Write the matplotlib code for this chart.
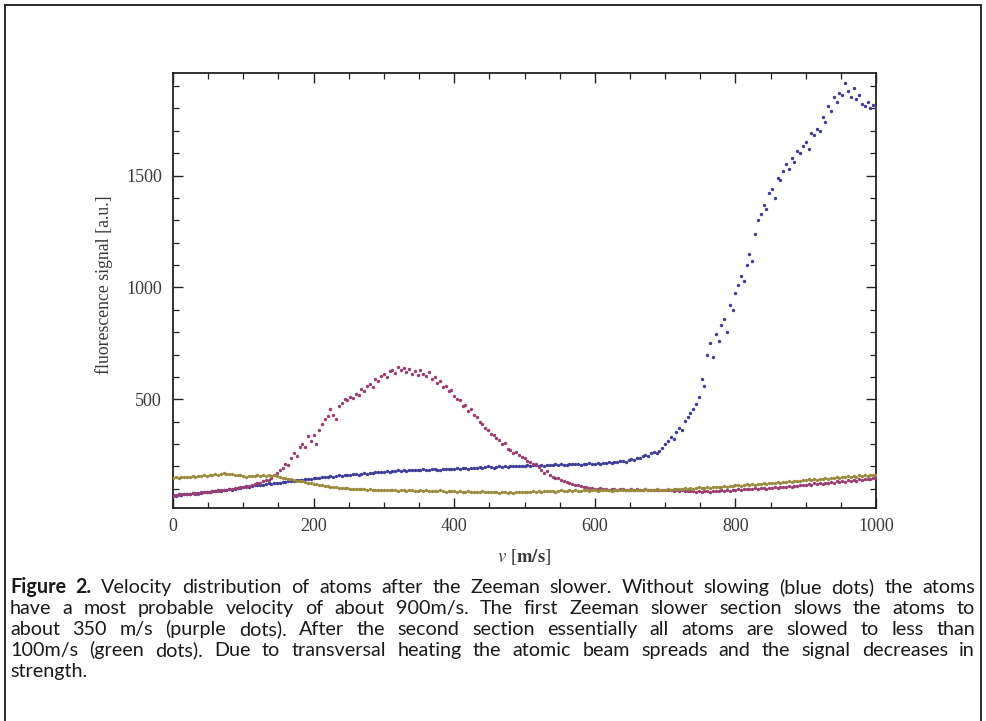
import numpy as np
import matplotlib
matplotlib.use('Agg')
import matplotlib.pyplot as plt
from matplotlib.ticker import MultipleLocator, FixedLocator
from matplotlib.lines import Line2D

# ---------------- data ----------------
velocity = np.arange(0, 1001, 4)  # m/s sampling grid

blue_signal = [
    72, 70, 75, 73, 78, 76, 79, 80, 77, 83, 82, 85, 88, 86, 90, 89, 93, 91, 96, 95, 99, 97, 101, 104, 103,
    108, 111, 109, 114, 118, 116, 119, 117, 121, 124, 122, 126, 128, 127, 131, 129, 133, 135, 134, 138, 140, 139, 143, 144, 146,
    148, 150, 147, 152, 154, 151, 156, 155, 158, 160, 157, 162, 163, 161, 165, 166, 164, 168, 170, 167, 172, 171, 174, 173, 176,
    177, 179, 175, 180, 178, 182, 180, 183, 181, 185, 182, 184, 186, 183, 188, 185, 184, 187, 189, 186, 185, 190, 187, 189, 188,
    189, 192, 188, 191, 194, 190, 193, 195, 192, 196, 194, 198, 201, 197, 195, 199, 200, 198, 202, 199, 201, 204, 200, 203, 202,
    203, 206, 202, 205, 207, 204, 206, 203, 208, 205, 207, 209, 206, 210, 208, 207, 211, 209, 212, 210, 208, 213, 211, 214, 212,
    212, 215, 213, 217, 214, 219, 216, 221, 218, 223, 226, 222, 229, 234, 231, 240, 238, 247, 252, 246, 258, 263, 259, 271, 282,
    300, 312, 330, 322, 352, 370, 362, 405, 422, 440, 455, 480, 510, 590, 560, 700, 750, 690, 790, 760, 830, 860, 800, 920, 900,
    975, 1010, 1050, 1030, 1100, 1150, 1120, 1240, 1300, 1330, 1370, 1350, 1420, 1440, 1400, 1490, 1480, 1520, 1550, 1530, 1580, 1560, 1610, 1600, 1630,
    1650, 1620, 1690, 1680, 1710, 1700, 1760, 1740, 1810, 1790, 1850, 1830, 1870, 1860, 1915, 1880, 1850, 1890, 1840, 1860, 1820, 1810, 1830, 1800, 1815,
    1800,
]

purple_signal = [
    70, 74, 72, 76, 75, 78, 77, 80, 82, 79, 84, 86, 85, 88, 90, 89, 92, 94, 93, 97, 99, 98, 102, 104, 106,
    110, 108, 113, 117, 120, 124, 128, 133, 140, 138, 150, 162, 170, 182, 195, 212, 205, 240, 262, 248, 288, 300, 285, 335, 315,
    340, 300, 365, 390, 410, 425, 455, 430, 410, 470, 485, 500, 495, 512, 505, 525, 518, 545, 535, 560, 570, 555, 590, 580, 605,
    612, 600, 625, 632, 618, 645, 630, 640, 622, 635, 615, 628, 610, 632, 615, 605, 620, 590, 600, 575, 580, 555, 560, 535, 540,
    515, 500, 495, 470, 475, 450, 455, 430, 420, 400, 390, 370, 365, 345, 340, 325, 318, 300, 305, 280, 275, 260, 265, 250, 242,
    238, 225, 218, 210, 212, 198, 185, 172, 178, 160, 155, 148, 150, 140, 135, 130, 127, 122, 118, 115, 112, 110, 107, 105, 103,
    101, 99, 102, 98, 100, 97, 99, 101, 96, 98, 100, 97, 95, 99, 96, 98, 94, 97, 99, 95, 96, 93, 97, 95, 94,
    95, 93, 96, 92, 94, 91, 93, 90, 92, 89, 91, 88, 90, 87, 89, 91, 88, 90, 92, 89, 93, 91, 94, 92, 95,
    96, 98, 95, 99, 101, 98, 100, 103, 99, 102, 104, 101, 105, 103, 107, 104, 108, 110, 107, 112, 109, 114, 111, 116, 115,
    118, 121, 117, 124, 120, 126, 123, 128, 125, 130, 127, 133, 131, 135, 132, 138, 136, 140, 137, 142, 140, 145, 143, 146, 148,
    147,
]

green_signal = [
    150, 152, 148, 153, 151, 155, 153, 157, 154, 158, 156, 160, 158, 162, 161, 166, 163, 168, 170, 166, 167, 165, 163, 161, 160,
    158, 155, 157, 159, 156, 160, 158, 162, 159, 161, 157, 160, 156, 153, 150, 148, 145, 142, 140, 137, 135, 133, 130, 128, 126,
    123, 120, 118, 116, 113, 111, 110, 107, 106, 104, 105, 102, 103, 100, 101, 99, 100, 98, 99, 97, 98, 96, 97, 95, 96,
    96, 94, 97, 93, 95, 92, 96, 94, 91, 93, 95, 92, 90, 93, 91, 94, 90, 92, 89, 91, 93, 90, 88, 91, 89,
    89, 87, 90, 88, 86, 89, 87, 85, 88, 86, 89, 87, 84, 86, 88, 85, 83, 86, 84, 82, 85, 83, 86, 84, 85,
    86, 88, 85, 89, 87, 90, 88, 91, 89, 92, 90, 88, 91, 93, 90, 92, 94, 91, 93, 90, 92, 95, 93, 91, 94,
    94, 92, 95, 93, 96, 94, 92, 95, 97, 93, 95, 94, 96, 93, 95, 97, 94, 96, 98, 95, 93, 96, 98, 95, 97,
    97, 99, 96, 100, 98, 101, 99, 102, 100, 103, 101, 104, 106, 103, 105, 107, 104, 108, 106, 110, 107, 111, 109, 113, 112,
    115, 117, 114, 118, 120, 117, 121, 119, 123, 121, 125, 122, 127, 124, 128, 130, 127, 131, 129, 133, 131, 135, 133, 137, 138,
    140, 142, 139, 144, 141, 146, 143, 148, 145, 150, 147, 152, 149, 154, 151, 156, 153, 158, 155, 160, 157, 162, 159, 161, 163,
    162,
]

x_major_ticks = [0, 200, 400, 600, 800, 1000]
y_major_ticks = [500, 1000, 1500]
x_label = r'$v$ [$\mathbf{m/s}$]'
y_label = 'fluorescence signal [a.u.]'

caption_lines = [
    "Figure 2. Velocity distribution of atoms after the Zeeman slower. Without slowing (blue dots) the atoms",
    "have a most probable velocity of about 900m/s. The first Zeeman slower section slows the atoms to",
    "about 350 m/s (purple dots). After the second section essentially all atoms are slowed to less than",
    "100m/s (green dots). Due to transversal heating the atomic beam spreads and the signal decreases in",
    "strength.",
]
caption_bold_words = 2  # "Figure 2." on the first line

# ---------------- figure ----------------
W, H = 986, 721
fig = plt.figure(figsize=(W / 100, H / 100), dpi=100)
fig.patch.set_facecolor('white')
plt.rcParams['mathtext.fontset'] = 'stix'

def fx(x):
    return x / W

def fy(y):
    return 1 - y / H

# outer frame
frame_kw = dict(color='#2a2a2a', lw=1.4, transform=fig.transFigure)
fig.add_artist(Line2D([fx(5), fx(981)], [fy(5), fy(5)], **frame_kw))
fig.add_artist(Line2D([fx(5), fx(5)], [fy(5), fy(721)], **frame_kw))
fig.add_artist(Line2D([fx(981), fx(981)], [fy(5), fy(721)], **frame_kw))

ax_left, ax_right, ax_top, ax_bottom = 173, 876, 73.3, 508.3
ax = fig.add_axes([fx(ax_left), fy(ax_bottom), (ax_right - ax_left) / W, (ax_bottom - ax_top) / H])
ax.set_xlim(0, 1000)
ax.set_ylim(13, 1957)

colors = {'blue': '#3d3d99', 'purple': '#993d71', 'green': '#998b3d'}
ax.scatter(velocity, blue_signal, s=6, color=colors['blue'], linewidths=0, zorder=3)
ax.scatter(velocity, purple_signal, s=6, color=colors['purple'], linewidths=0, zorder=4)
ax.scatter(velocity, green_signal, s=6, color=colors['green'], linewidths=0, zorder=5)

ax.xaxis.set_major_locator(FixedLocator(x_major_ticks))
ax.xaxis.set_minor_locator(MultipleLocator(50))
ax.yaxis.set_major_locator(FixedLocator(y_major_ticks))
ax.yaxis.set_minor_locator(MultipleLocator(100))
ax.tick_params(which='both', direction='in', top=True, right=True,
               labeltop=False, labelright=False, color='#222222')
ax.tick_params(which='major', length=7, width=1.0)
ax.tick_params(which='minor', length=4, width=0.9)
ax.tick_params(axis='x', pad=7)
ax.tick_params(axis='y', pad=8)
for lab in ax.get_xticklabels() + ax.get_yticklabels():
    lab.set_fontfamily('Liberation Serif')
    lab.set_fontsize(13)
    lab.set_color('#3a3a3a')
for sp in ax.spines.values():
    sp.set_linewidth(1.3)
    sp.set_color('#222222')

fig.text(fx(104), fy(285), y_label, rotation=90, ha='center', va='center',
         fontfamily='Liberation Serif', fontsize=12.8, color='#3a3a3a')
fig.text(fx(524), fy(557), x_label, ha='center', va='center',
         fontfamily='Liberation Serif', fontsize=13.5, color='#3a3a3a')

# ---------------- justified caption ----------------
renderer = fig.canvas.get_renderer()
cap_family = 'Lato'
cap_left, cap_right = 10, 975
target = cap_right - cap_left

def word_width(word, size, bold):
    t = fig.text(0, 0, word, fontfamily=cap_family, fontsize=size,
                 fontweight='bold' if bold else 'normal')
    w = t.get_window_extent(renderer).width
    t.remove()
    return w

def space_width(size):
    return word_width('a a', size, False) - word_width('aa', size, False)

base_size = 10.0
natural = []
for i, line in enumerate(caption_lines[:-1]):
    words = line.split(' ')
    tot = sum(word_width(w, base_size, i == 0 and j < caption_bold_words)
              for j, w in enumerate(words))
    natural.append(tot + (len(words) - 1) * space_width(base_size))
cap_size = base_size * 0.93 * target / max(natural)

line_y0, line_step = 593, 21
for i, line in enumerate(caption_lines):
    words = line.split(' ')
    bolds = [i == 0 and j < caption_bold_words for j in range(len(words))]
    widths = [word_width(w, cap_size, b) for w, b in zip(words, bolds)]
    last = (i == len(caption_lines) - 1)
    if last or len(words) == 1:
        gap = space_width(cap_size)
    else:
        gap = (target - sum(widths)) / (len(words) - 1)
    x = cap_left
    for w, b, wd in zip(words, bolds, widths):
        fig.text(fx(x), fy(line_y0 + i * line_step), w, fontfamily=cap_family,
                 fontsize=cap_size, fontweight='bold' if b else 'normal',
                 color='#1a1a1a', ha='left', va='baseline')
        x += wd + gap

fig.savefig('out.png', dpi=100, facecolor='white')
